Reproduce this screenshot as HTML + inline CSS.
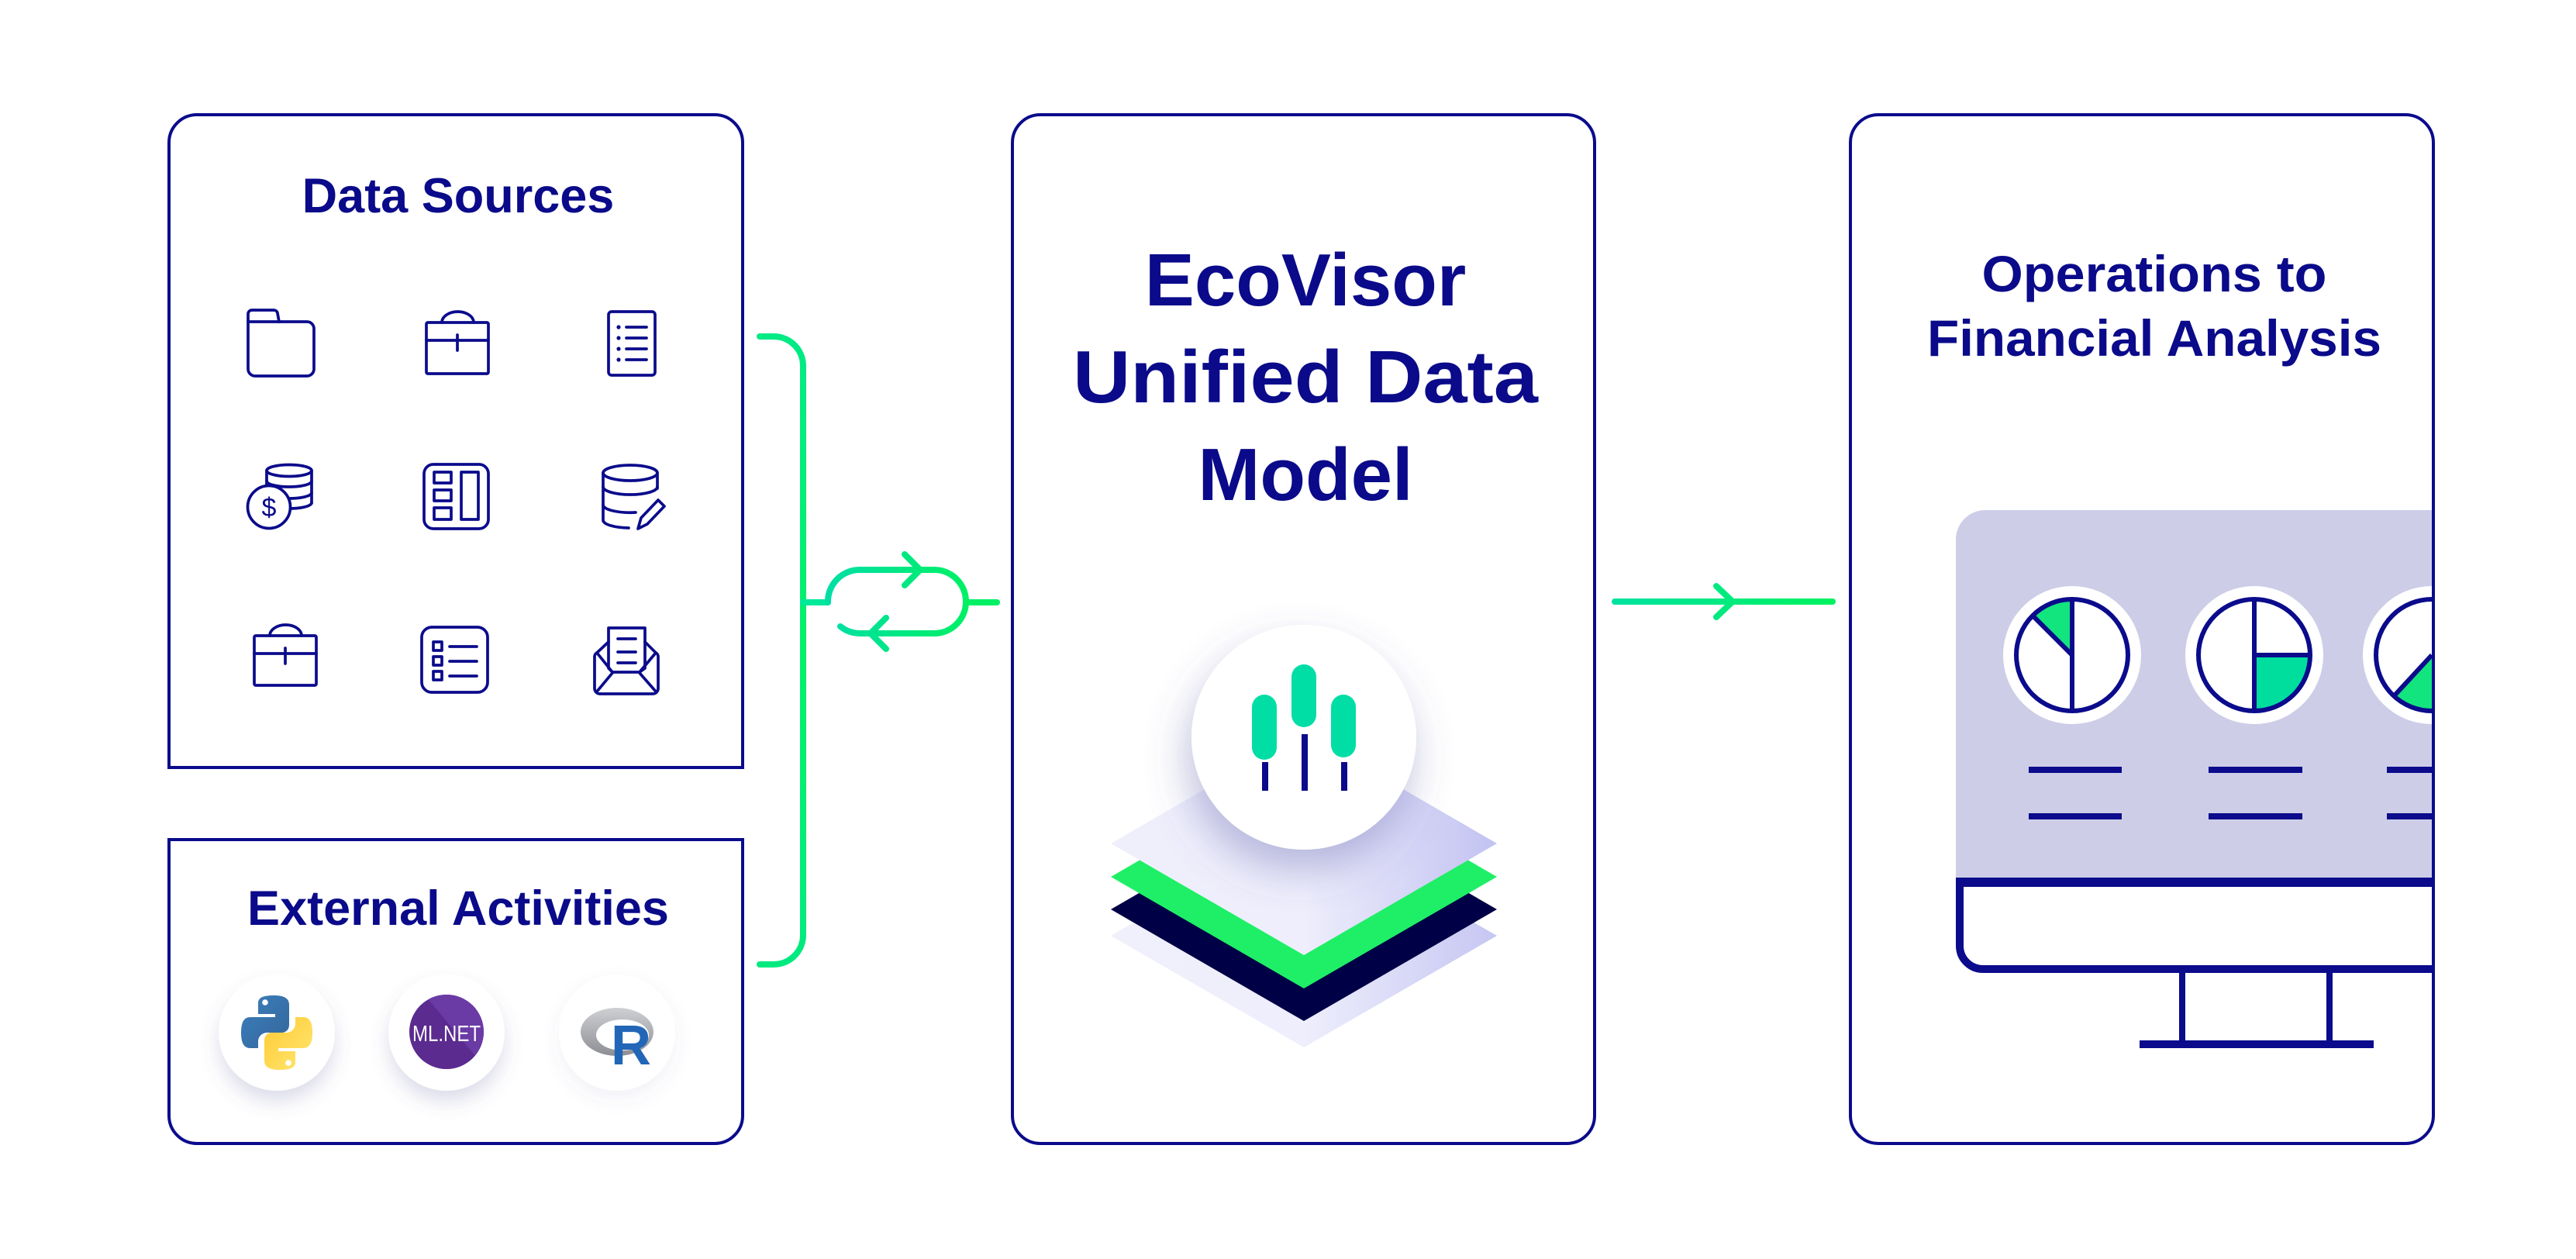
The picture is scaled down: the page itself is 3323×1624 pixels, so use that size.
<!DOCTYPE html>
<html>
<head>
<meta charset="utf-8">
<style>
  html,body{margin:0;padding:0;background:#ffffff;}
  body{width:3323px;height:1624px;overflow:hidden;}
  svg{display:block;}
  text{font-family:"Liberation Sans",Arial,sans-serif;}
</style>
</head>
<body>
<svg width="3323" height="1624" viewBox="0 0 3323 1624" xmlns="http://www.w3.org/2000/svg">
  <defs>
    <linearGradient id="loopG" gradientUnits="userSpaceOnUse" x1="1065" y1="0" x2="1250" y2="0">
      <stop offset="0" stop-color="#00dea6"/>
      <stop offset="1" stop-color="#00f064"/>
    </linearGradient>
    <linearGradient id="arrG" gradientUnits="userSpaceOnUse" x1="2080" y1="0" x2="2368" y2="0">
      <stop offset="0" stop-color="#00e2a0"/>
      <stop offset="1" stop-color="#00f25e"/>
    </linearGradient>
    <linearGradient id="brG" gradientUnits="userSpaceOnUse" x1="0" y1="430" x2="0" y2="1250">
      <stop offset="0" stop-color="#00ea86"/>
      <stop offset="0.5" stop-color="#00f06a"/>
      <stop offset="1" stop-color="#00ea80"/>
    </linearGradient>
    <linearGradient id="layerTop" gradientUnits="userSpaceOnUse" x1="1433" y1="0" x2="1931" y2="0">
      <stop offset="0" stop-color="#efeffc"/>
      <stop offset="0.5" stop-color="#eeeefc"/>
      <stop offset="1" stop-color="#c2c2f2"/>
    </linearGradient>
    <linearGradient id="layerBot" gradientUnits="userSpaceOnUse" x1="1433" y1="0" x2="1931" y2="0">
      <stop offset="0" stop-color="#f0f0fc"/>
      <stop offset="0.5" stop-color="#eeeefc"/>
      <stop offset="1" stop-color="#c6c6f3"/>
    </linearGradient>
    <linearGradient id="pyBlue" x1="0" y1="0" x2="1" y2="1">
      <stop offset="0" stop-color="#3c7fbd"/>
      <stop offset="1" stop-color="#34669a"/>
    </linearGradient>
    <linearGradient id="pyYel" x1="0" y1="0" x2="1" y2="1">
      <stop offset="0" stop-color="#ffe873"/>
      <stop offset="1" stop-color="#ffc933"/>
    </linearGradient>
    <linearGradient id="rRing" x1="0" y1="0" x2="0" y2="1">
      <stop offset="0" stop-color="#cfd0d4"/>
      <stop offset="1" stop-color="#8c8e94"/>
    </linearGradient>
    <filter id="sh" x="-50%" y="-50%" width="200%" height="200%">
      <feDropShadow dx="0" dy="14" stdDeviation="12" flood-color="#6060a0" flood-opacity="0.22"/>
    </filter>
    <filter id="shLight" x="-50%" y="-50%" width="200%" height="200%">
      <feDropShadow dx="0" dy="10" stdDeviation="12" flood-color="#6060a0" flood-opacity="0.08"/>
    </filter>
    <filter id="shBig" x="-60%" y="-60%" width="220%" height="220%">
      <feDropShadow dx="-6" dy="26" stdDeviation="26" flood-color="#5a5aa8" flood-opacity="0.38"/>
    </filter>
    <clipPath id="rightClip">
      <rect x="2389" y="150" width="748" height="1323"/>
    </clipPath>
    <clipPath id="mlClip">
      <circle cx="576" cy="1331" r="48"/>
    </clipPath>
  </defs>

  <!-- ============ BOXES ============ -->
  <g fill="none" stroke="#0b0b8c" stroke-width="4">
    <path d="M218,990 V184 A36,36 0 0 1 254,148 H922 A36,36 0 0 1 958,184 V990 Z"/>
    <path d="M218,1083 H958 V1439 A36,36 0 0 1 922,1475 H254 A36,36 0 0 1 218,1439 Z"/>
    <rect x="1306" y="148" width="751" height="1327" rx="36" ry="36"/>
  </g>

  <!-- ============ TITLES ============ -->
  <g fill="#0a0a8a" font-weight="700" text-anchor="middle">
    <text x="591" y="274" font-size="63">Data Sources</text>
    <text x="591" y="1193" font-size="63">External Activities</text>
    <text x="1684" y="394" font-size="96">EcoVisor</text>
    <text x="1684" y="519" font-size="96" textLength="600" lengthAdjust="spacingAndGlyphs">Unified Data</text>
    <text x="1684" y="645" font-size="96">Model</text>
    <text x="2779" y="376" font-size="66" textLength="445" lengthAdjust="spacingAndGlyphs">Operations to</text>
    <text x="2779" y="459" font-size="66" textLength="586" lengthAdjust="spacingAndGlyphs">Financial Analysis</text>
  </g>

  <!-- ============ DATA SOURCE ICONS ============ -->
  <g fill="none" stroke="#0b0b8c" stroke-width="3.7" stroke-linecap="round" stroke-linejoin="round">
    <!-- folder -->
    <path d="M320,476 V405 A5,5 0 0 1 325,400 H353 A5,5 0 0 1 358,404 L360,415 H396 A9,9 0 0 1 405,424 V476 A9,9 0 0 1 396,485 H329 A9,9 0 0 1 320,476 Z"/>
    <path d="M320,415 H360"/>
    <!-- briefcase 1 -->
    <rect x="550" y="416" width="80" height="66" rx="2"/>
    <path d="M570,416 A20.5,14 0 0 1 611,416"/>
    <path d="M550,439 H630 M590,432 V452"/>
    <!-- document list -->
    <rect x="785" y="402" width="60" height="82" rx="4"/>
    <path d="M808,422 H834 M808,436 H834 M808,450 H834 M808,464 H834"/>
    <!-- coins + db -->
    <path d="M344,607 V628 M402,607 V649"/>
    <ellipse cx="373" cy="607" rx="29" ry="7.5"/>
    <path d="M344,620.5 A29,7.5 0 0 0 402,620.5"/>
    <path d="M344,635.5 A29,7.5 0 0 0 402,635.5"/>
    <path d="M344,648.5 A29,7.5 0 0 0 402,648.5"/>
    <circle cx="347" cy="654" r="27.5" fill="#ffffff"/>
    <!-- grid panel -->
    <rect x="547" y="599" width="83" height="83" rx="12"/>
    <rect x="560" y="609" width="22" height="14"/>
    <rect x="560" y="632" width="22" height="14"/>
    <rect x="560" y="655" width="22" height="15"/>
    <rect x="595" y="609" width="22" height="61"/>
    <!-- db + pencil -->
    <ellipse cx="813" cy="610" rx="35" ry="10"/>
    <path d="M778,610 V671 A35,10 0 0 0 811,681"/>
    <path d="M848,610 V630"/>
    <path d="M778,628 A35,10 0 0 0 848,628"/>
    <path d="M778,651 A35,10 0 0 0 820,661"/>
    <path d="M823,682 L827,668 L849,645 L857,653 L835,676 Z"/>
    <!-- briefcase 2 -->
    <rect x="328" y="820" width="80" height="64" rx="2"/>
    <path d="M348,820 A20.5,14 0 0 1 389,820"/>
    <path d="M328,843 H408 M368,836 V856"/>
    <!-- list panel -->
    <rect x="544" y="809" width="85" height="84" rx="13"/>
    <rect x="559" y="828" width="11" height="11"/>
    <rect x="559" y="847" width="11" height="11"/>
    <rect x="559" y="866" width="11" height="11"/>
    <path d="M580,834 H615 M580,853 H615 M580,872 H615"/>
    <!-- envelope -->
    <path d="M785,828 V810 H832 V828"/>
    <path d="M785,828 V862 L790,867 H825 L832,862 V828"/>
    <path d="M785,828 L770,842 A6,6 0 0 0 767,848 V888 A7,7 0 0 0 774,895 H842 A7,7 0 0 0 849,888 V848 A6,6 0 0 0 846,842 L832,828"/>
    <path d="M770,842 L790,867 M846,842 L825,867"/>
    <path d="M790,868 L770,892 M825,868 L846,892"/>
    <path d="M797,824 H820 M797,841 H820 M797,855 H820"/>
  </g>
  <g fill="#0b0b8c">
    <circle cx="798" cy="422" r="2.6"/>
    <circle cx="798" cy="436" r="2.6"/>
    <circle cx="798" cy="450" r="2.6"/>
    <circle cx="798" cy="464" r="2.6"/>
  </g>
  <text x="347" y="666" font-size="34" fill="#0b0b8c" text-anchor="middle">$</text>

  <!-- ============ EXTERNAL ACTIVITIES LOGOS ============ -->
  <circle cx="357" cy="1332" r="75" fill="#ffffff" filter="url(#sh)"/>
  <circle cx="576" cy="1332" r="75" fill="#ffffff" filter="url(#sh)"/>
  <circle cx="796" cy="1332" r="75" fill="#ffffff" filter="url(#shLight)"/>

  <!-- python -->
  <g transform="translate(311,1284)">
    <path d="M22,10 C22,3 28,0 42,0 C56,0 62,4 62,12 V38 C62,44 58,48 52,48 H34 C27,48 22,53 22,60 V68 H12 C4,68 0,62 0,48 C0,34 4,28 12,28 H44 V24 H22 Z" fill="url(#pyBlue)"/>
    <circle cx="31" cy="9" r="3.8" fill="#ffffff"/>
    <g transform="rotate(180 46 48)">
      <path d="M22,10 C22,3 28,0 42,0 C56,0 62,4 62,12 V38 C62,44 58,48 52,48 H34 C27,48 22,53 22,60 V68 H12 C4,68 0,62 0,48 C0,34 4,28 12,28 H44 V24 H22 Z" fill="url(#pyYel)"/>
      <circle cx="31" cy="9" r="3.8" fill="#ffffff"/>
    </g>
  </g>

  <!-- ML.NET -->
  <circle cx="576" cy="1331" r="48" fill="#5b2b8f"/>
  <polygon points="545,1280 640,1280 640,1380 628,1380" fill="#6a3aa5" clip-path="url(#mlClip)"/>
  <text x="576" y="1343" font-size="29" fill="#ffffff" text-anchor="middle" textLength="88" lengthAdjust="spacingAndGlyphs">ML.NET</text>

  <!-- R -->
  <ellipse cx="796" cy="1331" rx="47" ry="31" fill="url(#rRing)"/>
  <ellipse cx="803" cy="1335" rx="34" ry="20" fill="#ffffff"/>
  <text x="814" y="1373" font-size="72" font-weight="700" fill="#2266b8" text-anchor="middle">R</text>

  <!-- ============ GREEN BRACKET + LOOP ============ -->
  <g fill="none" stroke-width="8" stroke-linecap="round" stroke-linejoin="round">
    <path d="M980,434 H998 A38,38 0 0 1 1036,472 V1206 A38,38 0 0 1 998,1244 H980" stroke="url(#brG)"/>
    <path d="M1036,777 H1068" stroke="#00e89a"/>
    <g stroke="url(#loopG)">
      <path d="M1068,777 A41,41 0 0 1 1109,735 H1205 A41,41 0 0 1 1205,817 H1109 A41,41 0 0 1 1084,808"/>
      <path d="M1246,777 H1286"/>
      <path d="M1167,715 L1187,735 L1167,755"/>
      <path d="M1143,797 L1123,817 L1143,837"/>
    </g>
  </g>

  <!-- ============ CENTER GRAPHIC ============ -->
  <polygon points="1682,1063 1931,1207 1682,1351 1433,1207" fill="url(#layerBot)"/>
  <polygon points="1682,1029 1931,1173 1682,1317 1433,1173" fill="#000046"/>
  <polygon points="1682,987 1931,1131 1682,1275 1433,1131" fill="#1fef66"/>
  <polygon points="1682,944 1931,1088 1682,1232 1433,1088" fill="url(#layerTop)"/>
  <circle cx="1682" cy="951" r="145" fill="#ffffff" filter="url(#shBig)"/>
  <g fill="#00dea6">
    <rect x="1615" y="896" width="32" height="84" rx="16"/>
    <rect x="1666" y="857" width="32" height="81" rx="16"/>
    <rect x="1717" y="896" width="32" height="81" rx="16"/>
  </g>
  <g fill="#0a0a8a">
    <rect x="1628" y="983" width="8" height="37"/>
    <rect x="1679" y="947" width="8" height="73"/>
    <rect x="1730" y="983" width="8" height="37"/>
  </g>

  <!-- ============ ARROW TO RIGHT ============ -->
  <g fill="none" stroke="url(#arrG)" stroke-width="8" stroke-linecap="round" stroke-linejoin="round">
    <path d="M2083,776 H2364"/>
    <path d="M2214,756 L2235,776 L2214,796"/>
  </g>

  <!-- ============ RIGHT BOX MONITOR ============ -->
  <g clip-path="url(#rightClip)">
    <path d="M2523,1134 V696 A38,38 0 0 1 2561,658 H3145 V1134 Z" fill="#cdcde8"/>
    <!-- pies -->
    <g>
      <circle cx="2673" cy="845" r="89" fill="#ffffff"/>
      <circle cx="2908" cy="845" r="89" fill="#ffffff"/>
      <circle cx="3137" cy="845" r="89" fill="#ffffff"/>
      <path d="M2673,845 L2622,794 A72,72 0 0 1 2673,773 Z" fill="#12e47e"/>
      <path d="M2908,845 L2980,845 A72,72 0 0 1 2908,917 Z" fill="#00de9e"/>
      <path d="M3137,845 L3088,898 A72,72 0 0 0 3137,917 Z" fill="#12e47e"/>
      <g fill="none" stroke="#0b0b8c" stroke-width="6">
        <circle cx="2673" cy="845" r="72"/>
        <circle cx="2908" cy="845" r="72"/>
        <circle cx="3137" cy="845" r="72"/>
        <path d="M2673,773 V917 M2673,845 L2622,794"/>
        <path d="M2908,773 V917 M2908,845 H2980"/>
        <path d="M3137,845 L3088,898"/>
      </g>
    </g>
    <!-- text lines -->
    <g fill="#0b0b8c">
      <rect x="2617" y="989" width="120" height="8"/>
      <rect x="2617" y="1049" width="120" height="8"/>
      <rect x="2849" y="989" width="121" height="8"/>
      <rect x="2849" y="1049" width="121" height="8"/>
      <rect x="3079" y="989" width="70" height="8"/>
      <rect x="3079" y="1049" width="70" height="8"/>
    </g>
    <!-- bezel -->
    <rect x="2523" y="1132" width="630" height="12" fill="#0b0b8c"/>
    <path d="M2528,1138 V1220 A30,30 0 0 0 2558,1250 H3150" fill="none" stroke="#0b0b8c" stroke-width="10"/>
    <!-- stand -->
    <rect x="2811" y="1250" width="8" height="100" fill="#0b0b8c"/>
    <rect x="3001" y="1250" width="8" height="100" fill="#0b0b8c"/>
    <rect x="2760" y="1342" width="302" height="10" fill="#0b0b8c"/>
  </g>
  <rect x="2387" y="148" width="752" height="1327" rx="36" ry="36" fill="none" stroke="#0b0b8c" stroke-width="4"/>
</svg>
</body>
</html>
